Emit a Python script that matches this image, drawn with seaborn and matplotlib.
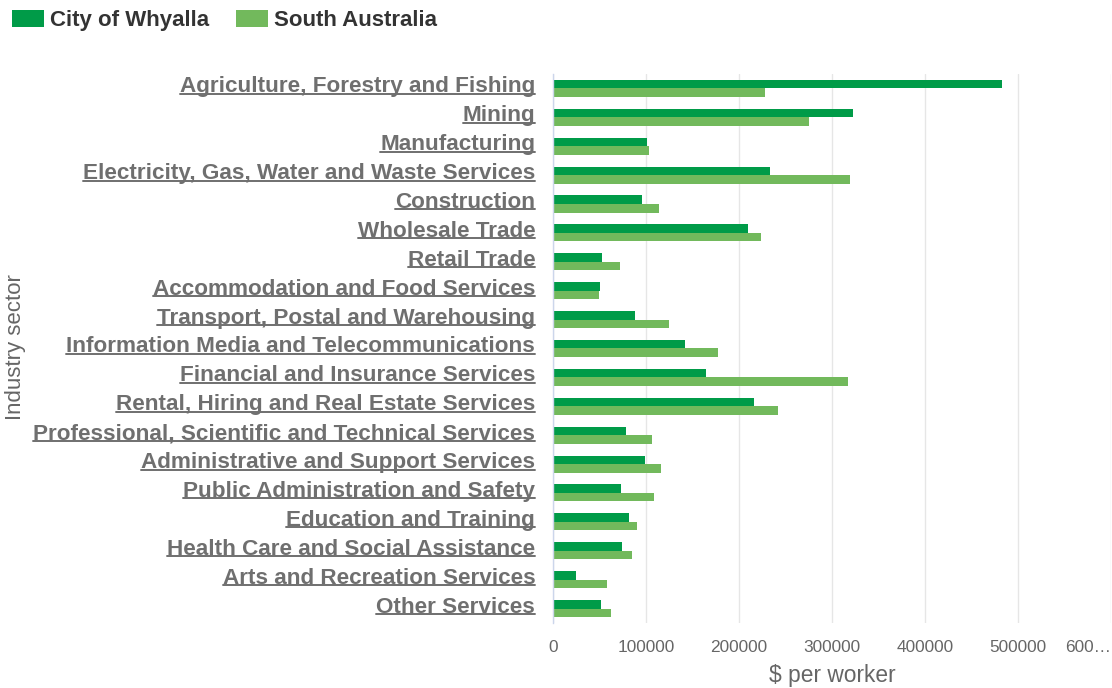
import pandas as pd
import seaborn as sns
import matplotlib.pyplot as plt
import matplotlib.transforms as mtrans
from matplotlib.lines import Line2D
from matplotlib.patches import Patch

# data ($ per worker)
sectors = [
    'Agriculture, Forestry and Fishing', 'Mining', 'Manufacturing',
    'Electricity, Gas, Water and Waste Services', 'Construction',
    'Wholesale Trade', 'Retail Trade', 'Accommodation and Food Services',
    'Transport, Postal and Warehousing',
    'Information Media and Telecommunications',
    'Financial and Insurance Services',
    'Rental, Hiring and Real Estate Services',
    'Professional, Scientific and Technical Services',
    'Administrative and Support Services',
    'Public Administration and Safety', 'Education and Training',
    'Health Care and Social Assistance', 'Arts and Recreation Services',
    'Other Services',
]
whyalla = [483000, 322000, 100800, 232700, 95700, 209800, 52400, 50000, 87800,
           141700, 164600, 216500, 78300, 98800, 72800, 81500, 74000, 24400, 51200]
south_aus = [228000, 275600, 103000, 318900, 113800, 224000, 71700, 49200, 124800,
             177600, 316900, 242100, 106300, 116100, 108700, 90200, 84600, 57900, 62200]
series = ['City of Whyalla', 'South Australia']
tick_vals = [0, 100000, 200000, 300000, 400000, 500000, 600000]
tick_text = ['0', '100000', '200000', '300000', '400000', '500000', '600…']

df = pd.DataFrame({
    'sector': sectors * 2,
    'value': whyalla + south_aus,
    'area': [series[0]] * len(sectors) + [series[1]] * len(sectors),
})

colors = ['#009b48', '#72b95c']

sns.set_style('white')
plt.rcParams['font.family'] = ['Liberation Sans', 'DejaVu Sans']

fig = plt.figure(figsize=(11.12, 6.88), dpi=100)
ax = fig.add_axes([0.4975, 0.0945, 0.5015, 0.798])

sns.barplot(data=df, y='sector', x='value', hue='area', order=sectors,
            hue_order=series, palette=colors, width=0.59, saturation=1,
            linewidth=0, orient='h', ax=ax, legend=False)

ax.set_xlim(0, 600000)
ax.set_ylim(len(sectors) - 0.5, -0.5)
ax.set_xticks(tick_vals)
ax.set_xticklabels(tick_text, fontsize=12.4, color='#666666')
ax.get_xticklabels()[-1].set_horizontalalignment('right')
ax.tick_params(axis='x', length=0, pad=12)
ax.tick_params(axis='y', length=0, pad=13)
shift = mtrans.ScaledTranslation(0, 4 / 100, fig.dpi_scale_trans)
for lbl in ax.get_yticklabels():
    lbl.set_fontsize(16.2)
    lbl.set_fontweight('bold')
    lbl.set_color('#6f6f6f')
    lbl.set_transform(lbl.get_transform() + shift)

ax.grid(axis='x', color='#e6e6e6', linewidth=1)
ax.set_axisbelow(True)
for s in ['top', 'right', 'bottom']:
    ax.spines[s].set_visible(False)
ax.spines['left'].set_color('#ccd6eb')
ax.spines['left'].set_linewidth(1)

ax.set_xlabel('$ per worker', fontsize=16.4, color='#666666', labelpad=7)
fig.text(0.014, 0.495, 'Industry sector', rotation=90, fontsize=16,
         color='#666666', ha='center', va='center')
ax.set_ylabel('')

handles = [Patch(facecolor=c, edgecolor='none') for c in colors]
fig.legend(handles, series, loc='upper left',
           bbox_to_anchor=(4 / 1112, 1 - 2 / 688),
           ncol=2, frameon=False, prop={'weight': 'bold', 'size': 16},
           labelcolor='#333333', handlelength=1.45, handleheight=0.8,
           handletextpad=0.28, columnspacing=1.2, borderaxespad=0.0,
           borderpad=0.35)

# underline the category labels
fig.canvas.draw()
r = fig.canvas.get_renderer()
for lbl in ax.get_yticklabels():
    bb = lbl.get_window_extent(r)
    y = bb.y0 + 3.5
    fig.add_artist(Line2D([bb.x0 / fig.bbox.width, bb.x1 / fig.bbox.width],
                          [y / fig.bbox.height, y / fig.bbox.height],
                          color='#6f6f6f', linewidth=1.4))

fig.savefig('out.png', dpi=100)
